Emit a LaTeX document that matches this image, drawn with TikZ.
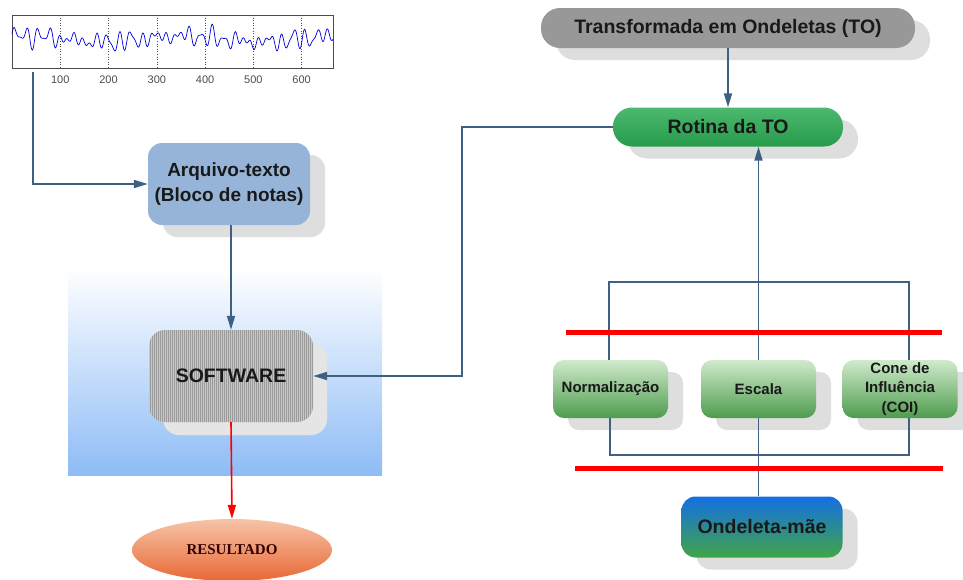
\documentclass[tikz,border=0pt]{standalone}
\usepackage{fontspec}
\setmainfont{Liberation Sans}
\newfontfamily\resfont{Liberation Serif}
\usepackage{tikz}
\usetikzlibrary{arrows.meta,positioning,shapes.geometric,shadows,patterns}
\definecolor{linkblue}{RGB}{62,96,130}
\definecolor{shadowgray}{RGB}{222,222,222}
\definecolor{txtdark}{RGB}{25,25,25}
\definecolor{arqblue}{RGB}{150,180,216}
\definecolor{toggray}{RGB}{152,152,152}
\definecolor{rotgreen}{RGB}{44,172,84}
\definecolor{lightgreen}{RGB}{208,234,204}
\definecolor{darkgreen}{RGB}{78,156,78}
\definecolor{ondblue}{RGB}{20,112,226}
\definecolor{ondgreen}{RGB}{66,164,72}
\definecolor{areablue}{RGB}{142,188,246}
\definecolor{resdark}{RGB}{232,104,52}
\definecolor{reslight}{RGB}{246,196,168}
\newcommand{\bigtxt}{\fontsize{19.5}{25}\selectfont\bfseries}
\newcommand{\smalltxt}{\fontsize{15}{19.5}\selectfont\bfseries}
\pgfdeclarepatternformonly{fine stripes}{\pgfpointorigin}{\pgfpoint{2pt}{1pt}}{\pgfpoint{2pt}{1pt}}
  {\pgfpathrectangle{\pgfpointorigin}{\pgfpoint{1pt}{1pt}}\pgfusepath{fill}}

\begin{document}
\begin{tikzpicture}[x=1pt, y=-1pt,
    shade box/.style={drop shadow={shadow xshift=15pt, shadow yshift=-12pt, fill=shadowgray, opacity=1}},
    plain box/.style={rounded corners=14pt, inner sep=2pt, align=center, text=txtdark, font=\bigtxt},
    box/.style={shade box, plain box},
    pill/.style={box, rounded corners=19pt, minimum height=39pt},
    step box/.style={box, rounded corners=11pt, minimum width=115pt, minimum height=58pt, font=\smalltxt,
      top color=lightgreen, bottom color=darkgreen},
    conn/.style={-{Triangle[length=14pt,width=8pt]}, line width=1.8pt, draw=linkblue},
    link/.style={line width=1.8pt, draw=linkblue},
    redbar/.style={line width=5pt, draw=red}
  ]
  \useasboundingbox (0,0) rectangle (963,579);

  % signal plot
  \draw[black!70, line width=0.6pt] (12,15) rectangle (333,68);
  \foreach \v in {100,200,...,600}{
    \draw[black!70, dotted, line width=0.6pt] ({12+0.4827*\v},15) -- ({12+0.4827*\v},68);
    \node[font=\fontsize{11}{12}\selectfont, text=black!70] (tick\v) at ({12+0.4827*\v},80) {\v};
  }
  \draw[blue!85!black, line width=0.7pt] plot[domain=0:321, samples=600]
    ({12+\x}, {39 - (5+3*sin(4.1*\x))*sin(31*\x) - 3.5*sin(47*\x+40) - 2.5*sin(13*\x+10) - 3*sin(2.3*\x+60)});
  \coordinate (sig) at (33,72);

  % software area
  \shade[top color=white, bottom color=areablue] (68,268) rectangle (382,475);

  \node[box, fill=arqblue, font=\fontsize{19}{25}\selectfont\bfseries, minimum width=162pt, minimum height=82pt] (arq) at (229,184)
    {Arquivo-texto\\(Bloco de notas)};
  \node[drop shadow={shadow xshift=14pt, shadow yshift=-13pt, fill=black!10, opacity=1},
    plain box, rounded corners=16pt, preaction={fill=black!22}, pattern=fine stripes, pattern color=black!62,
    minimum width=164pt, minimum height=92pt] (soft) at (231,376) {SOFTWARE};
  \node[ellipse, top color=reslight, bottom color=resdark, minimum width=200pt, minimum height=62pt,
    inner sep=0pt, text=black!80!red, font=\resfont\fontsize{15}{18}\selectfont\bfseries] (res) at (232,550) {RESULTADO};

  % wavelet side
  \node[pill, fill=toggray, minimum width=374pt, minimum height=40pt] (to) at (728,28)
    {Transformada em Ondeletas (TO)};
  \node[pill, top color=rotgreen!85!white, bottom color=rotgreen!90!black, minimum width=230pt] (rot) at (728,127)
    {Rotina da TO};
  \node[step box] (norm) at (610.5,389) {Normaliza\c{c}\~ao};
  \node[step box] (esc) at (758.5,389) {Escala};
  \node[step box] (cone) at (900,389) {Cone de\\Influ\^encia\\(COI)};
  \node[box, top color=ondblue, bottom color=ondgreen, minimum width=161pt, minimum height=61pt] (ond) at (762,527)
    {Ondeleta-m\~ae};

  % connectors
  \draw[conn] (sig) |- (arq.west);
  \draw[conn] (arq.south -| soft.north) -- (soft.north);
  \draw[conn, draw=red, line width=1.6pt] (soft.south) -- (res.north);
  \draw[conn] (rot.west) -- ++(-151,0) |- (soft.east);
  \draw[conn] (to.south) -- (rot.north);

  \coordinate (tl) at (609,282);
  \coordinate (tr) at (909,282);
  \coordinate (bl) at (610,455);
  \coordinate (br) at (909,455);
  \draw[link] (norm.north -| tl) -- (tl) -- (tr) -- (cone.north -| tr);
  \draw[link] (norm.south -| bl) -- (bl) -- (br) -- (cone.south -| br);
  \draw[link] (ond.north -| esc.center) -- (esc.south);
  \draw[conn] (esc.north) -- (rot.south -| esc.center);

  % red bars
  \draw[redbar] (566,332) -- (942,332);
  \draw[redbar] (575,468) -- (943,468);
\end{tikzpicture}
\end{document}
